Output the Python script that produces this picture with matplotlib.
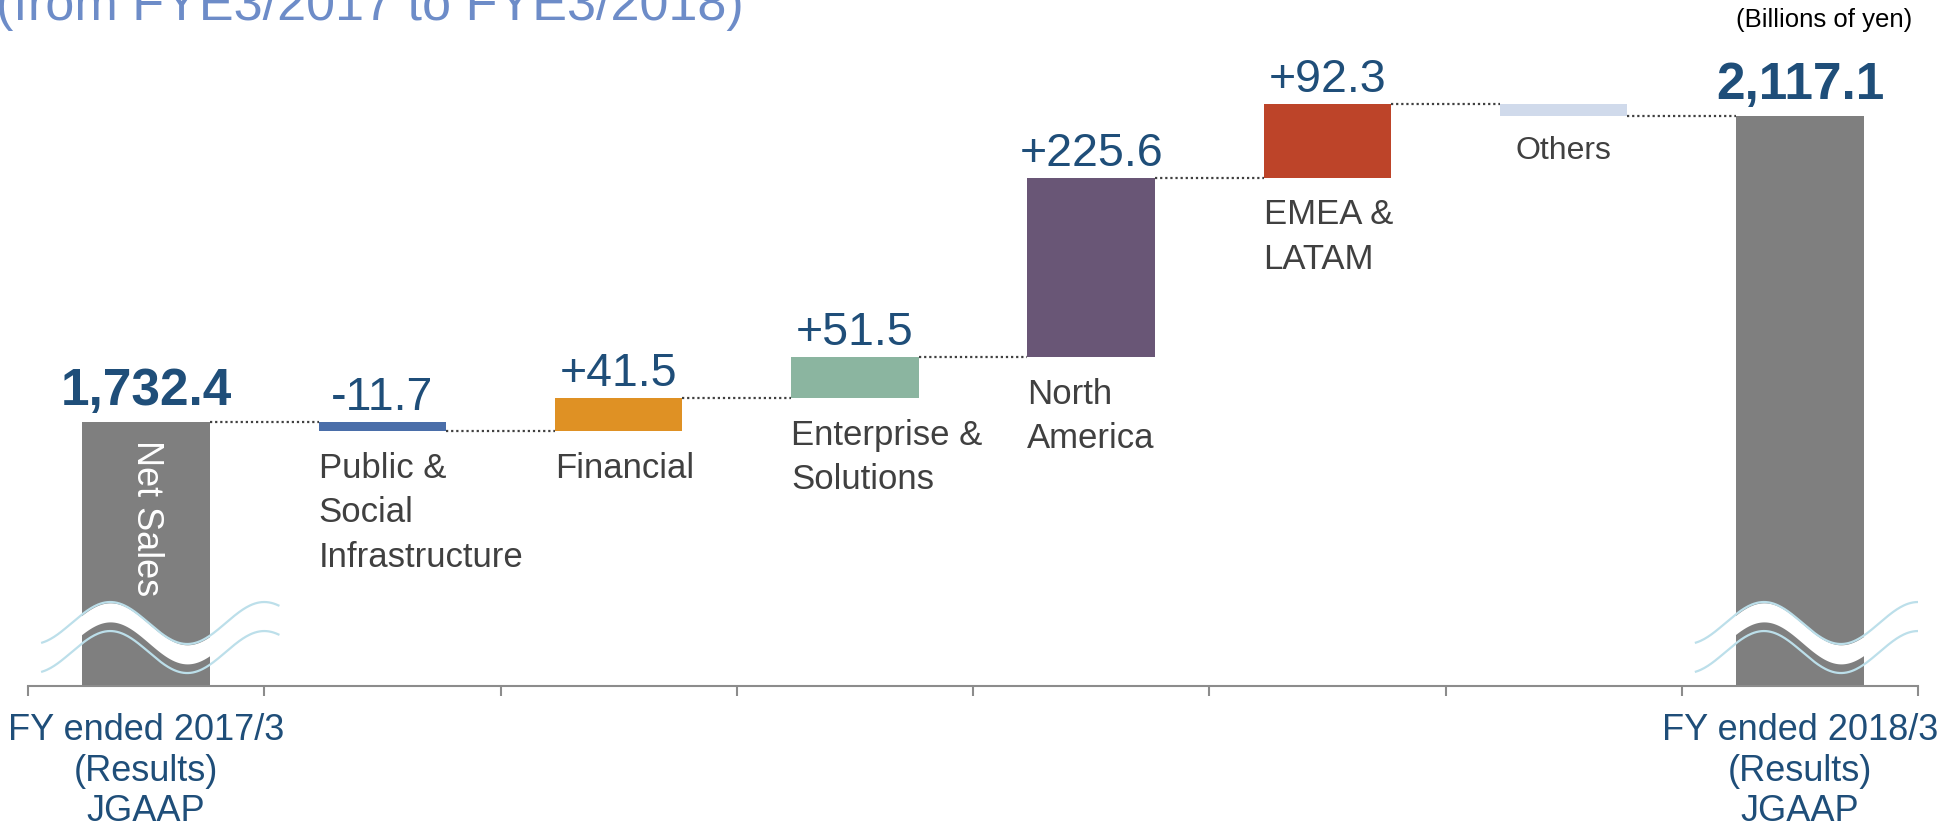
import matplotlib.pyplot as plt
import numpy as np

plt.rcParams['font.family'] = ['Liberation Sans', 'DejaVu Sans']

# Datos del puente de ventas
categorias = ["Net Sales", "Public &\nSocial\nInfrastructure", "Financial",
              "Enterprise &\nSolutions", "North\nAmerica", "EMEA &\nLATAM",
              "Others", "Net Sales"]
inicio = 1732.4
cambios = [-11.7, 41.5, 51.5, 225.6, 92.3, -14.5]
final = 2117.1
etiquetas_valor = ["1,732.4", "-11.7", "+41.5", "+51.5", "+225.6", "+92.3", "", "2,117.1"]
etiquetas_x = ["FY ended 2017/3\n(Results)\nJGAAP", "FY ended 2018/3\n(Results)\nJGAAP"]
colores = ["#7f7f7f", "#4a6ea9", "#df9124", "#8bb5a0", "#695676", "#bd4429",
           "#d0daeb", "#7f7f7f"]

azul = "#1f4e79"
gris_txt = "#404040"

fig = plt.figure(figsize=(19.45, 8.29), dpi=100)
ax = fig.add_axes([28/1945, 1-687/829, 1890/1945, 657/829])
y0, y1 = 1400.3, 2226.4
ax.set_xlim(-0.5, 7.5)
ax.set_ylim(y0, y1)

ancho = 0.54
acum = inicio + np.cumsum(cambios)
previos = np.concatenate([[inicio], acum[:-1]])

bottoms = [0]
heights = [inicio]
for p, c in zip(previos, cambios):
    bottoms.append(min(p, p + c))
    heights.append(abs(c))
bottoms.append(0)
heights.append(final)
x = np.arange(len(categorias))
ax.bar(x, heights, bottom=bottoms, width=ancho, color=colores, zorder=2)

# lineas punteadas entre barras
niveles = [inicio] + list(acum)
for i, nivel in enumerate(niveles):
    ax.plot([i + ancho/2, i + 1 - ancho/2], [nivel, nivel], color=gris_txt,
            lw=1.6, linestyle=(0, (1, 1.3)), zorder=1)

# valores arriba de las barras
for i, txt in enumerate(etiquetas_valor):
    if txt == "":
        continue
    tope = bottoms[i] + heights[i]
    if i in (0, 7):
        ax.annotate(txt, (i, tope), xytext=(0, 13), textcoords='offset points',
                    ha='center', va='baseline', fontsize=37, fontweight='bold', color=azul)
    else:
        ax.annotate(txt, (i, tope), xytext=(0, 9.5), textcoords='offset points',
                    ha='center', va='baseline', fontsize=33.5, color=azul)

# nombres de los segmentos abajo de cada barra
for i in range(1, 7):
    if i == 6:
        ax.annotate(categorias[i], (i, bottoms[i]), xytext=(0, -14),
                    textcoords='offset points', ha='center', va='top',
                    fontsize=23, color=gris_txt)
    else:
        ax.annotate(categorias[i], (i - ancho/2, bottoms[i]), xytext=(0, -14),
                    textcoords='offset points', ha='left', va='top',
                    fontsize=25, color=gris_txt, linespacing=1.45)

ax.text(0, 1612.6, categorias[0], rotation=-90, ha='center', va='center',
        fontsize=26, color='white', zorder=3)

# corte ondulado en las barras de totales
for cx in (0, 7):
    dx = np.linspace(-0.44, 0.56, 200)
    yw = 1479.5 + 26.4*np.cos(2*np.pi*(dx + 0.152)/0.652)
    ax.fill_between(cx + dx, yw - 25, yw - 1, color='white', lw=0, zorder=3)
    ax.plot(cx + dx, yw, color='#bcdfea', lw=1.6, zorder=4)
    ax.plot(cx + dx, yw - 36.5, color='#bcdfea', lw=1.6, zorder=4)

# eje
for s in ('left', 'top', 'right'):
    ax.spines[s].set_visible(False)
ax.spines['bottom'].set_color('#8c8c8c')
ax.spines['bottom'].set_linewidth(1.5)
ax.set_yticks([])
ax.set_xticks(np.arange(-0.5, 8, 1))
ax.set_xticklabels([])
ax.tick_params(axis='x', which='major', length=7.5, width=1.5, color='#8c8c8c')
ax.set_xticks([0, 7], minor=True)
ax.set_xticklabels(etiquetas_x, minor=True, fontsize=26, color=azul, linespacing=1.2)
ax.tick_params(axis='x', which='minor', length=0, pad=19)

# titulo cortado arriba, como en el original
fig.text(-0.002, 1 - 20/829, "(from FYE3/2017 to FYE3/2018)", ha='left', va='baseline',
         fontsize=37.5, color='#6d8cc8')
fig.text(1912/1945, 1 - 27/829, "(Billions of yen)", ha='right', va='baseline',
         fontsize=18.5, color='black')

fig.savefig('out.png', dpi=100)
